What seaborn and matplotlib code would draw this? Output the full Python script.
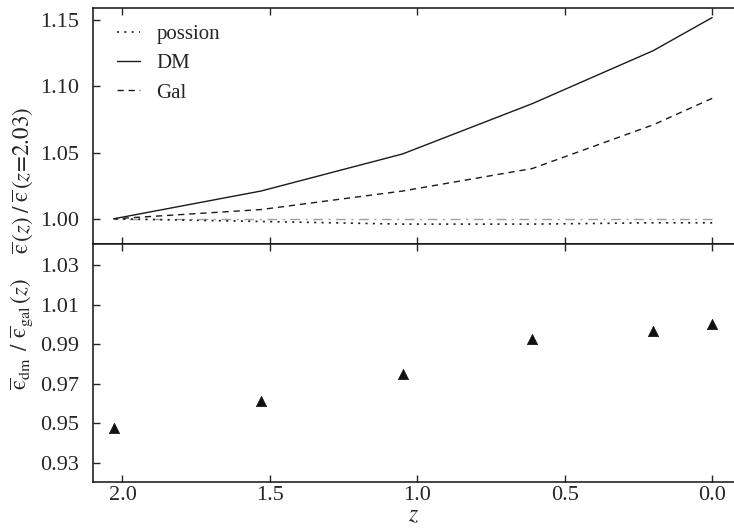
import numpy as np
import pandas as pd
import matplotlib
matplotlib.use('Agg')
import matplotlib.pyplot as plt
import seaborn as sns

# redshift points
z = [2.03, 1.53, 1.05, 0.61, 0.20, 0.0]

# top panel: normalised mean ellipticity
poisson = [1.000, 0.998, 0.996, 0.996, 0.997, 0.997]
dm = [1.000, 1.021, 1.049, 1.087, 1.127, 1.152]
gal = [1.000, 1.007, 1.021, 1.038, 1.071, 1.091]
ref = [1.0, 1.0, 1.0, 1.0, 1.0, 1.0]

# bottom panel: dm / gal ratio
ratio = [0.9475, 0.9613, 0.9751, 0.9925, 0.9965, 1.0004]

top_ticks = [1.00, 1.05, 1.10, 1.15]
bottom_ticks = [0.93, 0.95, 0.97, 0.99, 1.01, 1.03]
x_ticks = [2.0, 1.5, 1.0, 0.5, 0.0]

sns.set_style('ticks')
plt.rcParams['font.family'] = ['Liberation Serif', 'DejaVu Serif']
plt.rcParams['mathtext.fontset'] = 'stix'
plt.rcParams['xtick.direction'] = 'in'
plt.rcParams['ytick.direction'] = 'in'

fig = plt.figure(figsize=(7.34, 5.32), dpi=100)
ax1 = fig.add_axes([0.1267, 0.5414, 0.8733, 0.443])
ax2 = fig.add_axes([0.1267, 0.094, 0.8733, 0.4474])

line_col = '#1a1a1a'
eps = r'\overline{\mathrm{ϵ}}'

# top panel lines
sns.lineplot(x=z, y=ref, ax=ax1, color='#a0a0a0', linewidth=1.0, legend=False)
ax1.lines[-1].set_dashes([7, 4, 1.5, 4])
sns.lineplot(x=z, y=poisson, ax=ax1, color=line_col, linewidth=1.2, label='possion')
ax1.lines[-1].set_dashes([1.2, 3.2])
sns.lineplot(x=z, y=dm, ax=ax1, color=line_col, linewidth=1.0, label='DM')
sns.lineplot(x=z, y=gal, ax=ax1, color=line_col, linewidth=1.0, label='Gal')
ax1.lines[-1].set_dashes([4.5, 3.5])

ax1.set_xlim(2.1, -0.074)
ax1.set_ylim(0.981, 1.159)
ax1.set_yticks(top_ticks)
ax1.set_yticklabels(['%.2f' % t for t in top_ticks])
ax1.set_xticks(x_ticks)
ax1.tick_params(axis='both', which='both', top=True, bottom=True, left=True,
                right=False, labelbottom=False, length=5, width=1,
                labelsize=16)
ax1.tick_params(axis='y', pad=10)

handles, labels = ax1.get_legend_handles_labels()
ax1.legend(handles, labels, loc='upper left', frameon=False, fontsize=15,
           handlelength=1.1, handletextpad=0.8, labelspacing=0.47,
           borderaxespad=0.95, borderpad=0.2, bbox_to_anchor=(0.0, 1.034))
ax1.set_ylabel(r'$' + eps + r'\,(z)\;/\;' + eps + r'\,(z\!=\!2.03)$', fontsize=16.5)
ax1.yaxis.set_label_coords(-0.09, 0.27)

# bottom panel markers
sns.scatterplot(x=z, y=ratio, ax=ax2, marker='^', s=55, color='#111111',
                edgecolor='#111111', linewidth=0.5)
ax2.set_xlim(2.1, -0.074)
ax2.set_ylim(0.9204, 1.0406)
ax2.set_yticks(bottom_ticks)
ax2.set_yticklabels(['%.2f' % t for t in bottom_ticks])
ax2.set_xticks(x_ticks)
ax2.set_xticklabels(['%.1f' % t for t in x_ticks])
ax2.tick_params(axis='both', which='both', top=True, bottom=True, left=True,
                right=False, length=5, width=1, labelsize=16)
ax2.tick_params(axis='y', pad=10)
ax2.tick_params(axis='x', pad=3)
ax2.set_xlabel(r'$z$', fontsize=17, labelpad=0)
ax2.set_ylabel(r'$' + eps + r'_{\rm dm}\;\,/\;\,' + eps + r'_{\rm gal}\,(z)$', fontsize=16.5)
ax2.yaxis.set_label_coords(-0.09, 0.62)

for ax in (ax1, ax2):
    ax.spines['right'].set_visible(False)
    for s in ('left', 'top', 'bottom'):
        ax.spines[s].set_linewidth(1.1)
        ax.spines[s].set_color('#111111')

fig.savefig('out.png', dpi=100)
